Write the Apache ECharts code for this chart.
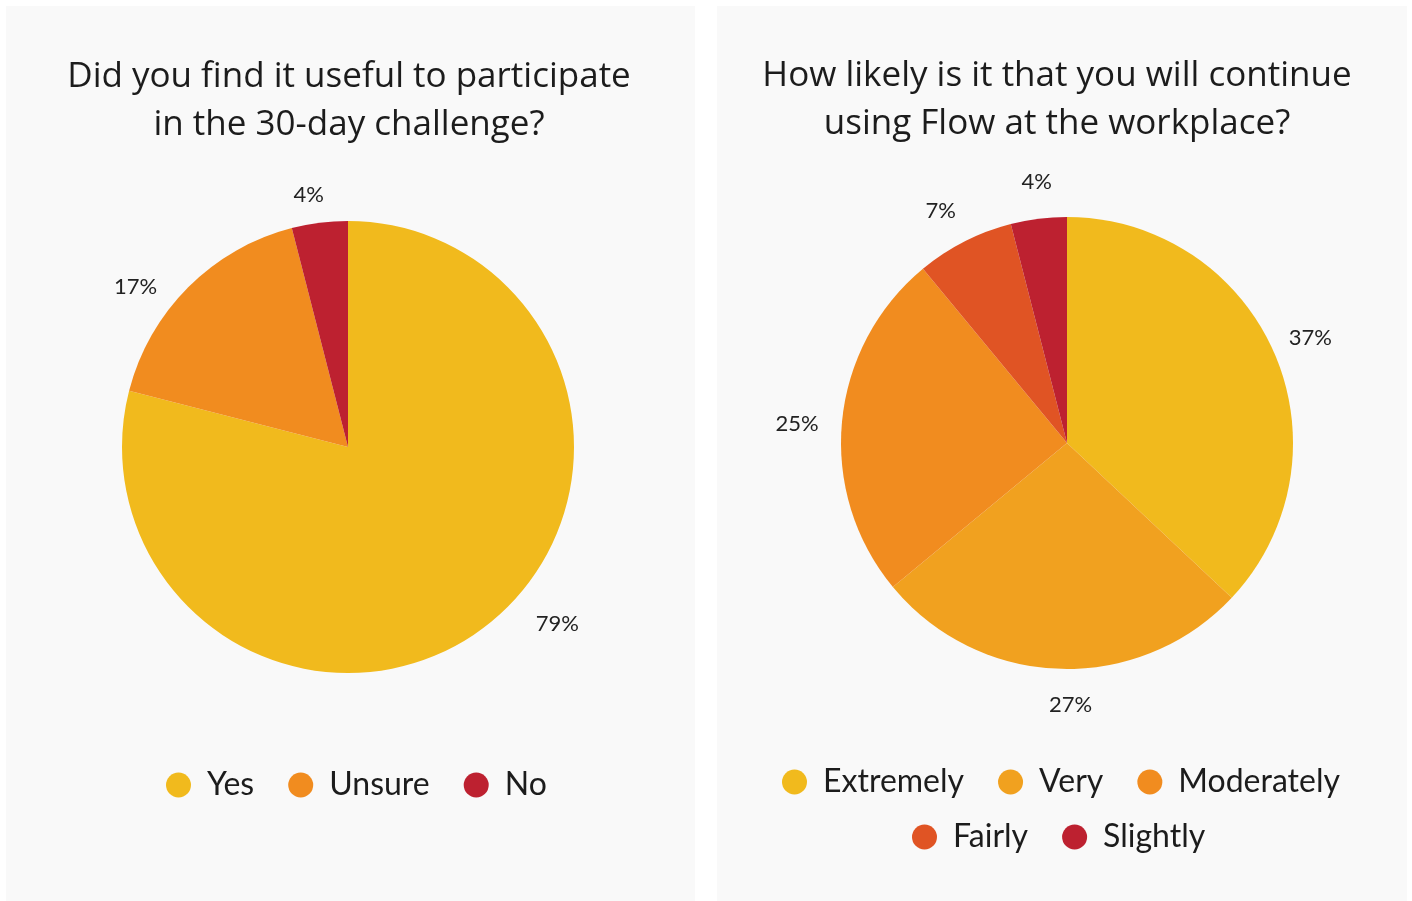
<!DOCTYPE html>
<html>
<head>
<meta charset="utf-8">
<script src="https://cdn.jsdelivr.net/npm/echarts@6/dist/echarts.min.js"></script>
<style>
html,body{margin:0;padding:0;background:#ffffff;width:1412px;height:901px;overflow:hidden;}
.panel{position:absolute;top:6px;height:895px;background:#f9f9f9;}
#p1{left:6px;width:689px;}
#p2{left:717px;width:690px;}
.chart{position:absolute;top:0;height:901px;}
#c1{left:0;width:698px;}
#c2{left:717px;width:680px;}
</style>
</head>
<body>
<div class="panel" id="p1"></div>
<div class="panel" id="p2"></div>
<div class="chart" id="c1"></div>
<div class="chart" id="c2"></div>
<script>
// ---- data ----
const title1 = 'Did you find it useful to participate\nin the 30-day challenge?';
const categories1 = ['Yes', 'Unsure', 'No'];
const values1 = [79, 17, 4];
const colors1 = ['#f1ba1d', '#f18c1f', '#bd2130'];

const title2 = 'How likely is it that you will continue\nusing Flow at the workplace?';
const categories2 = ['Extremely', 'Very', 'Moderately', 'Fairly', 'Slightly'];
const values2 = [37, 27, 25, 7, 4];
const colors2 = ['#f1ba1d', '#f1a11f', '#f18c1f', '#e05424', '#bd2130'];

// label nudges (style only)
const nudge1 = [[47, -32], [-25, 27], [-6, 11]];
const nudge2 = [[0, 0], [12, -3], [-6, 6], [-6, 4], [3, 2]];

const FONT = 'Lato, "Open Sans", sans-serif';
const TITLE_FONT = '"Open Sans", Lato, sans-serif';
const TXT = '#1c1c1c';

function build(title, titleTop, cats, vals, colors, center, legends, nudge) {
  const data = cats.map((c, i) => ({ name: c, value: vals[i], itemStyle: { color: colors[i] } }));
  const ringData = cats.map((c, i) => ({ name: c, value: vals[i] }));
  return {
    animation: false,
    title: {
      text: title, left: 'center', top: titleTop, padding: 0,
      textStyle: { fontFamily: TITLE_FONT, fontSize: 35, fontWeight: 'normal', color: TXT, lineHeight: 48 }
    },
    legend: legends.map(l => ({
      data: l.data, left: l.left, top: l.top, orient: 'horizontal', padding: 0,
      icon: 'circle', itemWidth: 47, itemHeight: 25, itemGap: 34, selectedMode: false,
      textStyle: { fontFamily: FONT, fontSize: 32, color: TXT }
    })),
    series: [
      {
        type: 'pie', center: center, radius: [0, 226], startAngle: 90, clockwise: true,
        data: data, label: { show: false }, labelLine: { show: false },
        itemStyle: { borderWidth: 0 }, silent: true, emphasis: { disabled: true },
        avoidLabelOverlap: false
      },
      {
        type: 'pie', center: center, radius: [250, 274], startAngle: 90, clockwise: true,
        data: ringData, silent: true, emphasis: { disabled: true }, avoidLabelOverlap: false,
        itemStyle: { color: 'rgba(0,0,0,0)', borderWidth: 0 },
        label: { show: true, position: 'inside', formatter: '{c}%', fontFamily: FONT, fontSize: 22, color: '#222' },
        labelLine: { show: false },
        labelLayout: function (p) { const n = nudge[p.dataIndex] || [0, 0]; return { dx: n[0], dy: n[1] }; }
      }
    ]
  };
}

const ch1 = echarts.init(document.getElementById('c1'), null, { renderer: 'canvas' });
ch1.setOption(build(title1, 53, categories1, values1, colors1, [348, 447],
  [{ data: categories1, left: 166, top: 769 }], nudge1));

const ch2 = echarts.init(document.getElementById('c2'), null, { renderer: 'canvas' });
ch2.setOption(build(title2, 52, categories2, values2, colors2, [350, 443],
  [{ data: categories2.slice(0, 3), left: 65, top: 766 },
   { data: categories2.slice(3), left: 195, top: 821 }], nudge2));
</script>
</body>
</html>
